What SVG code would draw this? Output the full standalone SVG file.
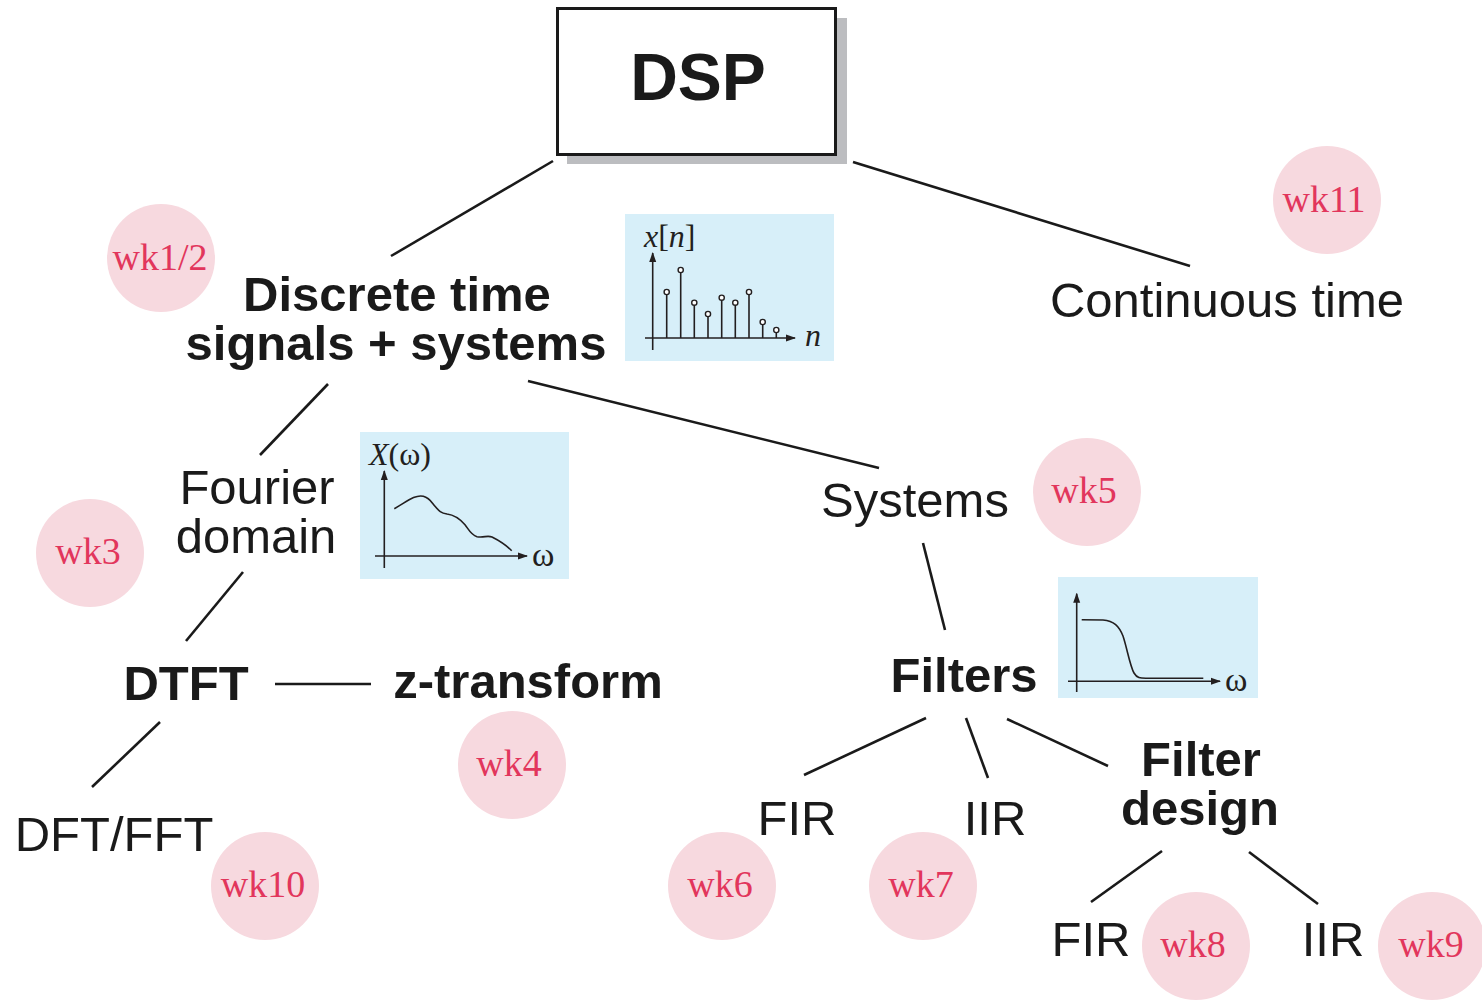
<svg xmlns="http://www.w3.org/2000/svg" width="1482" height="1000" viewBox="0 0 1482 1000">
<defs>
<style>
.lbl{font-family:"Liberation Sans",Arial,sans-serif;font-size:49px;fill:#1a1a1a}
.b{font-weight:bold}
.wk circle{fill:#f7d9df}
.wk text{font-family:"Liberation Serif","Times New Roman",serif;font-size:38px;fill:#e2365c;text-anchor:middle}
.plot{fill:#d7eff9}
.ax{stroke:#231f20;stroke-width:1.6;fill:none}
.pt{font-family:"Liberation Serif","Times New Roman",serif;font-size:32px;fill:#231f20}
.conn line{stroke:#1a1a1a;stroke-width:2.6}
</style>
<marker id="ah" viewBox="0 0 10 10" refX="9" refY="5" markerWidth="10" markerHeight="10" markerUnits="userSpaceOnUse" orient="auto"><path d="M0,1.5 L10,5 L0,8.5 z" fill="#231f20"/></marker>
</defs>
<rect width="1482" height="1000" fill="#fff"/>

<g class="conn">
<line x1="553" y1="161" x2="391" y2="256"/>
<line x1="853" y1="162" x2="1190" y2="266"/>
<line x1="328" y1="384" x2="260" y2="455"/>
<line x1="528" y1="381" x2="879" y2="468"/>
<line x1="243" y1="572" x2="186" y2="641"/>
<line x1="275" y1="684" x2="371" y2="684"/>
<line x1="160" y1="722" x2="92" y2="787"/>
<line x1="923" y1="543" x2="945" y2="630"/>
<line x1="926" y1="718" x2="804" y2="775"/>
<line x1="966" y1="718" x2="988" y2="778"/>
<line x1="1007" y1="719" x2="1108" y2="766"/>
<line x1="1162" y1="851" x2="1091" y2="902"/>
<line x1="1249" y1="852" x2="1318" y2="904"/>
</g>

<g id="dsp">
<rect x="567" y="18" width="280" height="146" fill="#bcbdc0"/>
<rect x="557.5" y="8.5" width="278" height="146" fill="#fff" stroke="#1a1a1a" stroke-width="3"/>
<text x="698" y="100" class="lbl b" style="font-size:66px" text-anchor="middle">DSP</text>
</g>

<g id="discrete">
<text x="397" y="311" class="lbl b" text-anchor="middle">Discrete time</text>
<text x="396" y="360" class="lbl b" text-anchor="middle">signals + systems</text>
</g>
<g id="continuous"><text x="1227" y="317" class="lbl" text-anchor="middle">Continuous time</text></g>
<g id="fourier">
<text x="257" y="504" class="lbl" text-anchor="middle">Fourier</text>
<text x="256" y="553" class="lbl" text-anchor="middle">domain</text>
</g>
<g id="systems"><text x="915" y="517" class="lbl" text-anchor="middle">Systems</text></g>
<g id="dtft"><text x="186" y="700" class="lbl b" text-anchor="middle">DTFT</text></g>
<g id="ztransform"><text x="528" y="698" class="lbl b" text-anchor="middle">z-transform</text></g>
<g id="filters"><text x="964" y="692" class="lbl b" text-anchor="middle">Filters</text></g>
<g id="fir1"><text x="797" y="835" class="lbl" text-anchor="middle">FIR</text></g>
<g id="iir1"><text x="995" y="835" class="lbl" text-anchor="middle">IIR</text></g>
<g id="filterdesign">
<text x="1201" y="776" class="lbl b" text-anchor="middle">Filter</text>
<text x="1200" y="825" class="lbl b" text-anchor="middle">design</text>
</g>
<g id="dftfft"><text x="114" y="851" class="lbl" text-anchor="middle">DFT/FFT</text></g>
<g id="fir2"><text x="1091" y="956" class="lbl" text-anchor="middle">FIR</text></g>
<g id="iir2"><text x="1333" y="956" class="lbl" text-anchor="middle">IIR</text></g>

<g id="wk12" class="wk"><circle cx="161" cy="258" r="54"/><text x="160" y="270">wk1/2</text></g>
<g id="wk11" class="wk"><circle cx="1327" cy="200" r="54"/><text x="1324" y="212">wk11</text></g>
<g id="wk3" class="wk"><circle cx="90" cy="553" r="54"/><text x="88" y="564">wk3</text></g>
<g id="wk5" class="wk"><circle cx="1087" cy="492" r="54"/><text x="1084" y="503">wk5</text></g>
<g id="wk4" class="wk"><circle cx="512" cy="765" r="54"/><text x="509" y="776">wk4</text></g>
<g id="wk10" class="wk"><circle cx="265" cy="886" r="54"/><text x="263" y="897">wk10</text></g>
<g id="wk6" class="wk"><circle cx="722" cy="886" r="54"/><text x="720" y="897">wk6</text></g>
<g id="wk7" class="wk"><circle cx="923" cy="886" r="54"/><text x="921" y="897">wk7</text></g>
<g id="wk8" class="wk"><circle cx="1196" cy="946" r="54"/><text x="1193" y="957">wk8</text></g>
<g id="wk9" class="wk"><circle cx="1432" cy="946" r="54"/><text x="1431" y="957">wk9</text></g>

<g id="plot-xn">
<rect class="plot" x="625" y="214" width="209" height="147"/>
<line class="ax" x1="652.7" y1="350" x2="652.7" y2="253" marker-end="url(#ah)"/>
<line class="ax" x1="645" y1="338" x2="795" y2="338" marker-end="url(#ah)"/>
<g class="ax">
<line x1="666.7" y1="338" x2="666.7" y2="294.5"/>
<line x1="680.7" y1="338" x2="680.7" y2="272.5"/>
<line x1="694.3" y1="338" x2="694.3" y2="305.2"/>
<line x1="708" y1="338" x2="708" y2="316.5"/>
<line x1="721.7" y1="338" x2="721.7" y2="300.2"/>
<line x1="735.3" y1="338" x2="735.3" y2="305.2"/>
<line x1="749" y1="338" x2="749" y2="294.5"/>
<line x1="762.7" y1="338" x2="762.7" y2="324.5"/>
<line x1="776.3" y1="338" x2="776.3" y2="332.5"/>
</g>
<g fill="#fff" stroke="#231f20" stroke-width="1.4">
<circle cx="666.7" cy="292" r="2.6"/><circle cx="680.7" cy="270" r="2.6"/><circle cx="694.3" cy="302.7" r="2.6"/>
<circle cx="708" cy="314" r="2.6"/><circle cx="721.7" cy="297.7" r="2.6"/><circle cx="735.3" cy="302.7" r="2.6"/>
<circle cx="749" cy="292" r="2.6"/><circle cx="762.7" cy="322" r="2.6"/><circle cx="776.3" cy="330" r="2.6"/>
</g>
<text class="pt" x="644" y="247" font-style="italic">x<tspan font-style="normal">[</tspan>n<tspan font-style="normal">]</tspan></text>
<text class="pt" x="805" y="346" font-style="italic">n</text>
</g>

<g id="plot-xw">
<rect class="plot" x="360" y="432" width="209" height="147"/>
<line class="ax" x1="384.3" y1="568" x2="384.3" y2="471" marker-end="url(#ah)"/>
<line class="ax" x1="375" y1="556" x2="527" y2="556" marker-end="url(#ah)"/>
<path class="ax" d="M394.3,508.7 C405,503 415,494 423.3,496.3 C430,498 432,503 435,506.3 C439,511 441,513 447,514 C455,515 460,519 465,524.7 C469,530 471,535 477,536.7 C484,538 487,535 492,537 C500,541 507,546 511.7,550.7"/>
<text class="pt" x="369" y="465"><tspan font-style="italic">X</tspan>(ω)</text>
<text class="pt" x="532" y="566" style="font-size:34px">ω</text>
</g>

<g id="plot-filter">
<rect class="plot" x="1058" y="577" width="200" height="121"/>
<line class="ax" x1="1076.7" y1="692" x2="1076.7" y2="593.7" marker-end="url(#ah)"/>
<line class="ax" x1="1068" y1="681.3" x2="1220" y2="681.3" marker-end="url(#ah)"/>
<path class="ax" d="M1081.7,619.7 L1103,620 C1114,621 1119,626 1123,636 C1127,648 1130,666 1134,673 C1137,678 1140,678.3 1146,678.3 L1203.3,678.3"/>
<text class="pt" x="1225" y="691" style="font-size:34px">ω</text>
</g>
</svg>
